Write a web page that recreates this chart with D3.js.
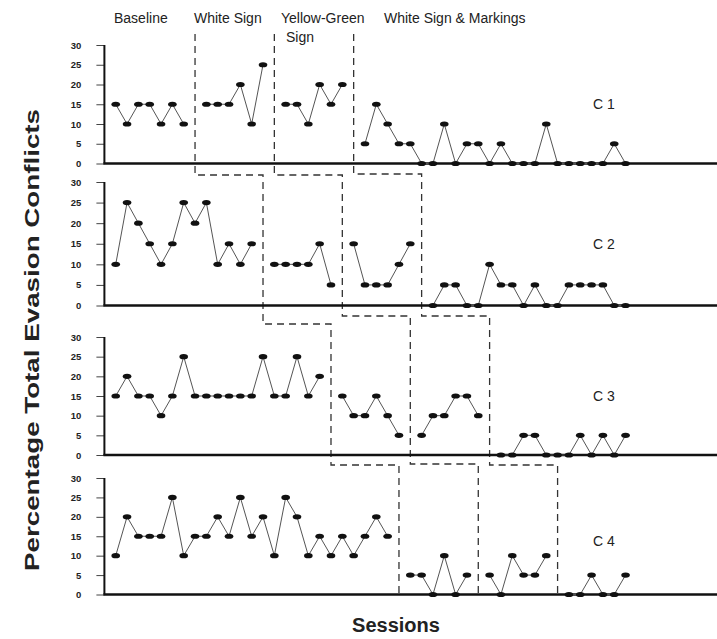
<!DOCTYPE html>
<html lang="en">
<head>
  <meta charset="UTF-8">
  <title>Evasion conflicts</title>
  <style>
    body { margin: 0; background: #fff; }
    text { font-family: "Liberation Sans", Arial, sans-serif; }
  </style>
</head>
<body>
  <script src="https://d3js.org/d3.v7.min.js"></script>
  <script>
    const width = 717;
    const height = 639;

    const phaseNames = ['Baseline', 'White Sign', 'Yellow-Green', 'Sign', 'White Sign & Markings'];
    const panelLabels = ['C 1', 'C 2', 'C 3', 'C 4'];
    const yTicks = [0, 5, 10, 15, 20, 25, 30];

    // first session of each phase, and the values per phase
    const c1Start = [1, 9, 16, 23];
    const c1Values = [
      [15, 10, 15, 15, 10, 15, 10],
      [15, 15, 15, 20, 10, 25],
      [15, 15, 10, 20, 15, 20],
      [5, 15, 10, 5, 5, 0, 0, 10, 0, 5, 5, 0, 5, 0, 0, 0, 10, 0, 0, 0, 0, 0, 5, 0]
    ];
    const c2Start = [1, 15, 22, 29];
    const c2Values = [
      [10, 25, 20, 15, 10, 15, 25, 20, 25, 10, 15, 10, 15],
      [10, 10, 10, 10, 15, 5],
      [15, 5, 5, 5, 10, 15],
      [0, 5, 5, 0, 0, 10, 5, 5, 0, 5, 0, 0, 5, 5, 5, 5, 0, 0]
    ];
    const c3Start = [1, 21, 28, 35];
    const c3Values = [
      [15, 20, 15, 15, 10, 15, 25, 15, 15, 15, 15, 15, 15, 25, 15, 15, 25, 15, 20],
      [15, 10, 10, 15, 10, 5],
      [5, 10, 10, 15, 15, 10],
      [0, 0, 5, 5, 0, 0, 0, 5, 0, 5, 0, 5]
    ];
    const c4Start = [1, 27, 34, 41];
    const c4Values = [
      [10, 20, 15, 15, 15, 25, 10, 15, 15, 20, 15, 25, 15, 20, 10, 25, 20, 10, 15, 10, 15, 10, 15, 20, 15],
      [5, 5, 0, 10, 0, 5],
      [5, 0, 10, 5, 5, 10],
      [0, 0, 5, 0, 0, 5]
    ];

    // session where each phase-change line crosses C1..C4
    const change1 = [8, 14, 20, 26];
    const change2 = [15, 21, 27, 33];
    const change3 = [22, 28, 34, 40];

    const starts = [c1Start, c2Start, c3Start, c4Start];
    const values = [c1Values, c2Values, c3Values, c4Values];

    const panels = [
      { top: 45, bottom: 163.5 },
      { top: 182, bottom: 305.5 },
      { top: 337, bottom: 455 },
      { top: 478, bottom: 594.5 }
    ];
    const axisX = 104.4;

    const x = d3.scaleLinear().domain([0, 54]).range([axisX, 716.2]);

    const svg = d3.select('body')
      .append('svg')
      .attr('width', width)
      .attr('height', height);

    // phase-change dashed lines
    const gapYs = [[175, 324, 465], [175, 316, 464], [174, 316, 465]];
    [change1, change2, change3].forEach((ch, k) => {
      const g = gapYs[k];
      const pts = [
        [x(ch[0]), 34], [x(ch[0]), g[0]], [x(ch[1]), g[0]], [x(ch[1]), g[1]],
        [x(ch[2]), g[1]], [x(ch[2]), g[2]], [x(ch[3]), g[2]], [x(ch[3]), panels[3].bottom]
      ];
      svg.append('path')
        .attr('d', d3.line()(pts))
        .attr('fill', 'none')
        .attr('stroke', '#333')
        .attr('stroke-width', 1.3)
        .attr('stroke-dasharray', '7,5');
    });

    panels.forEach((p, i) => {
      const y = d3.scaleLinear().domain([0, 30]).range([p.bottom, p.top]);
      const g = svg.append('g');

      const yAxis = d3.axisLeft(y).tickValues(yTicks).tickSize(8).tickPadding(15);
      const ax = g.append('g')
        .attr('transform', `translate(${axisX},0)`)
        .call(yAxis);
      ax.select('.domain').remove();
      ax.selectAll('.tick line').attr('stroke', '#444').attr('stroke-width', 1);
      ax.selectAll('.tick text')
        .attr('font-size', 9.5)
        .attr('font-weight', 'bold')
        .attr('fill', '#222')
        .style('font-family', '"Liberation Sans", Arial, sans-serif');

      g.append('line')
        .attr('x1', axisX).attr('x2', axisX)
        .attr('y1', p.top).attr('y2', p.bottom)
        .attr('stroke', '#111').attr('stroke-width', 2);
      g.append('line')
        .attr('x1', axisX - 1).attr('x2', width)
        .attr('y1', p.bottom).attr('y2', p.bottom)
        .attr('stroke', '#111').attr('stroke-width', 2.5);

      const line = d3.line()
        .x(d => x(d.s))
        .y(d => y(d.v));

      values[i].forEach((vals, j) => {
        const ds = vals.map((v, n) => ({ s: starts[i][j] + n, v: v }));
        g.append('path')
          .datum(ds)
          .attr('d', line)
          .attr('fill', 'none')
          .attr('stroke', '#555')
          .attr('stroke-width', 1);
        g.selectAll(null)
          .data(ds)
          .join('ellipse')
          .attr('cx', d => x(d.s))
          .attr('cy', d => y(d.v))
          .attr('rx', 4.3)
          .attr('ry', 2.6)
          .attr('fill', '#111');
      });

      g.append('text')
        .attr('x', 593)
        .attr('y', (p.top + p.bottom) / 2 + 5 + (i === 3 ? 5 : 0))
        .attr('font-size', 14)
        .attr('fill', '#222')
        .text(panelLabels[i]);
    });

    // phase titles
    const titlePos = [[114, 23], [194, 23], [281, 23], [286, 42], [384, 23]];
    svg.selectAll('.phase')
      .data(phaseNames)
      .join('text')
      .attr('class', 'phase')
      .attr('x', (d, i) => titlePos[i][0])
      .attr('y', (d, i) => titlePos[i][1])
      .attr('font-size', 14)
      .attr('fill', '#222')
      .text(d => d);

    svg.append('text')
      .attr('transform', 'translate(39,340) rotate(-90)')
      .attr('text-anchor', 'middle')
      .attr('font-size', 21)
      .attr('font-weight', 'bold')
      .attr('fill', '#222')
      .attr('textLength', 462)
      .attr('lengthAdjust', 'spacingAndGlyphs')
      .text('Percentage Total Evasion Conflicts');

    svg.append('text')
      .attr('x', 396)
      .attr('y', 632)
      .attr('text-anchor', 'middle')
      .attr('font-size', 20)
      .attr('font-weight', 'bold')
      .attr('fill', '#222')
      .text('Sessions');
  </script>
</body>
</html>
